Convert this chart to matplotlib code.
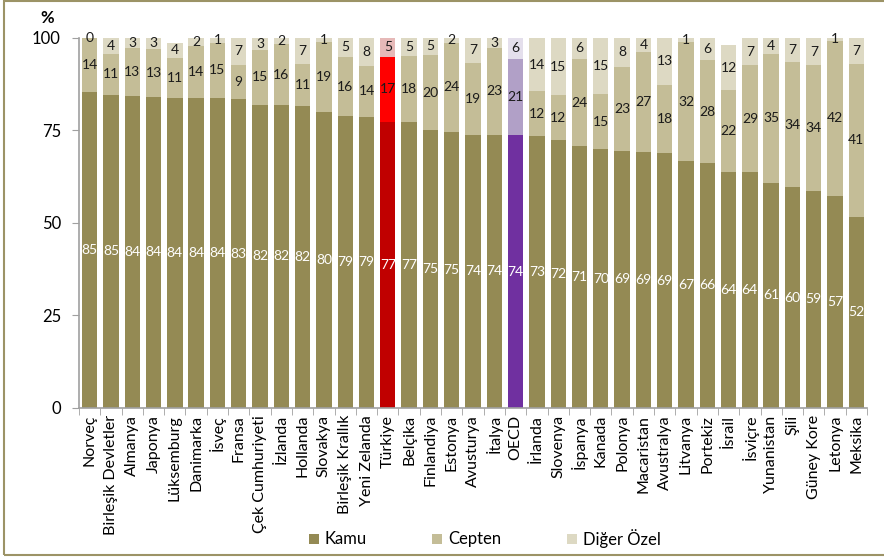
import matplotlib
matplotlib.use("Agg")
import matplotlib.pyplot as plt
from matplotlib.patches import Rectangle

plt.rcParams['font.family'] = ['Lato', 'DejaVu Sans']

countries = ["Norveç", "Birleşik Devletler", "Almanya", "Japonya", "Lüksemburg", "Danimarka",
             "İsveç", "Fransa", "Çek Cumhuriyeti", "İzlanda", "Hollanda", "Slovakya",
             "Birleşik Krallık", "Yeni Zelanda", "Türkiye", "Belçika", "Finlandiya", "Estonya",
             "Avusturya", "İtalya", "OECD", "İrlanda", "Slovenya", "İspanya", "Kanada",
             "Polonya", "Macaristan", "Avustralya", "Litvanya", "Portekiz", "İsrail",
             "İsviçre", "Yunanistan", "Şili", "Güney Kore", "Letonya", "Meksika"]

kamu = [85.4, 84.6, 84.3, 84.0, 83.8, 83.8, 83.6, 83.3, 81.9, 81.8, 81.6, 79.9,
        78.7, 78.6, 77.3, 77.1, 75.0, 74.6, 73.8, 73.8, 73.6, 73.3, 72.2, 70.6,
        69.8, 69.4, 69.0, 68.8, 66.6, 66.2, 63.8, 63.6, 60.8, 59.6, 58.6, 57.2, 51.6]
cepten = [14.4, 11.0, 12.8, 12.8, 10.8, 13.9, 15.0, 9.4, 14.8, 16.4, 11.2, 18.8,
          16.0, 13.7, 17.4, 17.8, 20.3, 23.9, 19.4, 23.4, 20.6, 12.2, 12.2, 23.6,
          14.9, 22.7, 27.0, 18.3, 32.1, 27.6, 21.9, 28.9, 34.7, 33.7, 33.9, 41.9, 41.2]
diger = [0.2, 4.4, 2.9, 3.2, 4.0, 2.3, 1.4, 7.3, 3.3, 1.8, 7.2, 1.3,
         5.3, 7.7, 5.3, 5.1, 4.7, 1.6, 6.8, 2.8, 5.8, 14.4, 15.4, 5.8,
         15.3, 7.8, 4.0, 12.9, 1.3, 6.2, 12.4, 7.4, 4.3, 6.7, 7.4, 0.9, 7.2]

series_names = ["Kamu", "Cepten", "Diğer Özel"]
yticks = [0, 25, 50, 75, 100]

base_colors = ["#948A54", "#C4BD97", "#DDD9C3"]
special = {"Türkiye": ["#C00000", "#FF0000", "#E6B9B8"],
           "OECD": ["#7030A0", "#B1A0C7", "#E4DFEC"]}
label_colors = ["white", "#1a1a1a", "#1a1a1a"]

W, H = 884, 558
fig = plt.figure(figsize=(W / 100, H / 100), dpi=100)
ax = fig.add_axes([79/W, 1 - 408/H, (867-79)/W, (408-37.5)/H])

x = list(range(len(countries)))
width = 0.72
bottoms = [0.0] * len(countries)
for si, vals in enumerate([kamu, cepten, diger]):
    cols = [special.get(c, base_colors)[si] for c in countries]
    ax.bar(x, vals, width, bottom=bottoms, color=cols, edgecolor='none', zorder=2)
    for i, v in enumerate(vals):
        ax.text(x[i], bottoms[i] + v / 2, f"{int(v + 0.5):d}", ha='center', va='center',
                fontsize=10, color=label_colors[si], zorder=3)
    bottoms = [b + v for b, v in zip(bottoms, vals)]

ax.set_xlim(-0.5, len(countries) - 0.5)
ax.set_ylim(0, 100)
ax.set_yticks(yticks)
ax.set_yticklabels([str(t) for t in yticks], fontsize=12)
ax.set_xticks(x)
ax.set_xticklabels(countries, rotation=90, fontsize=11.5)
ax.set_xticks([i - 0.5 for i in range(len(countries) + 1)], minor=True)
ax.tick_params(axis='x', which='major', length=0, pad=5)
ax.tick_params(axis='x', which='minor', length=5, color='#A0A0A0', direction='out')
ax.tick_params(axis='y', length=5, color='#A0A0A0', direction='out', pad=8)
for s in ['top', 'right']:
    ax.spines[s].set_visible(False)
for s in ['left', 'bottom']:
    ax.spines[s].set_color('#A0A0A0')
    ax.spines[s].set_linewidth(1.2)

fig.text(47/W, 1 - 18/H, "%", ha='center', va='center', fontsize=12, fontweight='bold')

# legend entries
leg_sq_x = [309, 432, 567]
leg_y = 539
for xs, name, col in zip(leg_sq_x, series_names, base_colors):
    fig.patches.append(Rectangle((xs / W, 1 - (leg_y + 5) / H), 10 / W, 10 / H,
                                 transform=fig.transFigure, facecolor=col, edgecolor='none'))
    fig.text((xs + 16) / W, 1 - leg_y / H, name, ha='left', va='center', fontsize=12)

fig.patches.append(Rectangle((4/W, 3/H), 1.0, 1 - 4/H, transform=fig.transFigure,
                             fill=False, edgecolor='#9C9366', linewidth=1.5))

fig.savefig("out.png", dpi=100)
